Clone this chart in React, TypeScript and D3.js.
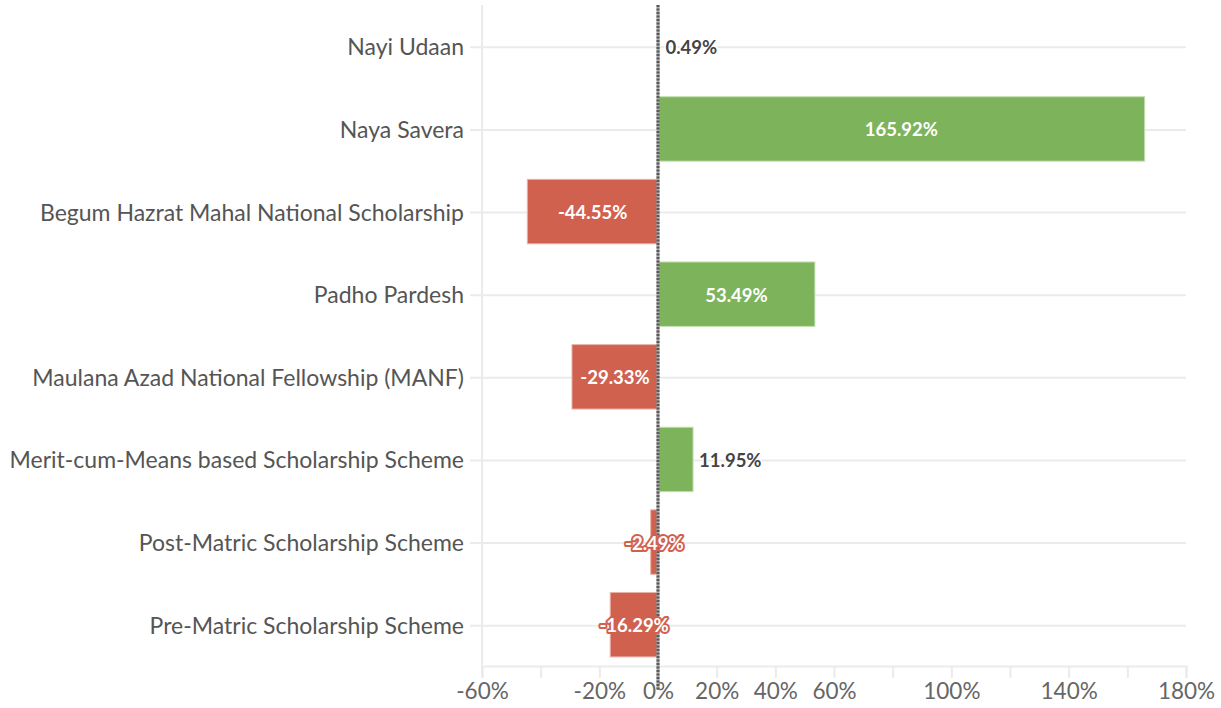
import { useRef, useEffect } from 'react';
import * as d3 from 'd3';

const schemes = [
  'Nayi Udaan',
  'Naya Savera',
  'Begum Hazrat Mahal National Scholarship',
  'Padho Pardesh',
  'Maulana Azad National Fellowship (MANF)',
  'Merit-cum-Means based Scholarship Scheme',
  'Post-Matric Scholarship Scheme',
  'Pre-Matric Scholarship Scheme',
];
const changes = [0.49, 165.92, -44.55, 53.49, -29.33, 11.95, -2.49, -16.29];
const tickValues = [-60, -40, -20, 0, 20, 40, 60, 80, 100, 120, 140, 160, 180];
const shownTicks = [-60, -20, 0, 20, 40, 60, 100, 140, 180];

const FONT = 'Lato, "Open Sans", sans-serif';

const App = () => {
  const svgRef = useRef<SVGSVGElement>(null);

  useEffect(() => {
    if (!svgRef.current) return;
    const width = 1221;
    const height = 708;
    const margin = { top: 5, right: 35, bottom: 42, left: 482 };

    const svg = d3.select(svgRef.current);
    svg.selectAll('*').remove();

    const x = d3.scaleLinear()
      .domain([-60, 180])
      .range([margin.left, width - margin.right]);

    const y = d3.scaleBand()
      .domain(schemes)
      .range([margin.top, height - margin.bottom])
      .paddingInner(0.22)
      .paddingOuter(0.11);

    const bottom = height - margin.bottom;

    // grid lines per category
    svg.append('g')
      .selectAll('line')
      .data(schemes)
      .join('line')
      .attr('x1', margin.left - 12)
      .attr('x2', width - margin.right)
      .attr('y1', d => y(d)! + y.bandwidth() / 2 + 1)
      .attr('y2', d => y(d)! + y.bandwidth() / 2 + 1)
      .attr('stroke', '#ebebeb')
      .attr('stroke-width', 2);

    // left axis line
    svg.append('line')
      .attr('x1', margin.left).attr('x2', margin.left)
      .attr('y1', margin.top).attr('y2', bottom + 12)
      .attr('stroke', '#ebebeb')
      .attr('stroke-width', 2);

    // bottom axis
    const xAxis = svg.append('g')
      .attr('transform', `translate(0,${bottom})`)
      .call(d3.axisBottom(x)
        .tickValues(tickValues)
        .tickSize(12)
        .tickFormat(d => (shownTicks.includes(+d) ? `${d}%` : '')));
    xAxis.select('.domain').attr('stroke', '#ebebeb').attr('stroke-width', 2);
    xAxis.selectAll('.tick line').attr('stroke', '#ebebeb').attr('stroke-width', 2);
    xAxis.selectAll('.tick text')
      .attr('fill', '#666')
      .attr('font-family', FONT)
      .attr('font-size', 22.5)
      .attr('dy', '0.75em')
      .attr('y', 16);

    // category labels
    svg.append('g')
      .selectAll('text')
      .data(schemes)
      .join('text')
      .attr('x', margin.left - 18)
      .attr('y', d => y(d)! + y.bandwidth() / 2 + 1)
      .attr('dy', '0.35em')
      .attr('text-anchor', 'end')
      .attr('fill', '#555')
      .attr('font-family', FONT)
      .attr('font-size', 23)
      .text(d => d);

    const rows = schemes.map((s, i) => ({ s, v: changes[i] }));
    const colour = (v: number) => (v >= 0 ? '#7db35a' : '#d0614f');

    // bars
    svg.append('g')
      .selectAll('rect')
      .data(rows)
      .join('rect')
      .attr('x', d => Math.min(x(0), x(d.v)))
      .attr('y', d => y(d.s)!)
      .attr('width', d => Math.abs(x(d.v) - x(0)))
      .attr('height', y.bandwidth())
      .attr('fill', d => colour(d.v))
      .attr('stroke', d => (d.v >= 0 ? '#c5e0b4' : '#eab4aa'))
      .attr('stroke-width', 1);

    // zero line (grey base + darker dashes)
    svg.append('line')
      .attr('x1', x(0)).attr('x2', x(0))
      .attr('y1', margin.top).attr('y2', bottom + 24)
      .attr('stroke', '#aaa')
      .attr('stroke-width', 3);
    svg.append('line')
      .attr('x1', x(0)).attr('x2', x(0))
      .attr('y1', margin.top).attr('y2', bottom + 24)
      .attr('stroke', '#5a5a5a')
      .attr('stroke-width', 3)
      .attr('stroke-dasharray', '2,1.5');

    // value labels
    svg.append('g')
      .selectAll('text')
      .data(rows)
      .join('text')
      .each(function (d) {
        const w = Math.abs(x(d.v) - x(0));
        const outside = d.v > 0 && w < 60;
        const t = d3.select(this)
          .attr('y', y(d.s)! + y.bandwidth() / 2 + 1)
          .attr('dy', '0.35em')
          .attr('font-family', FONT)
          .attr('font-size', 18.5)
          .attr('font-weight', 700)
          .attr('paint-order', 'stroke')
          .attr('stroke-linejoin', 'round')
          .text(`${d.v.toFixed(2)}%`);
        if (outside) {
          t.attr('x', x(d.v) + 6)
            .attr('text-anchor', 'start')
            .attr('fill', '#444')
            .attr('stroke', '#fff')
            .attr('stroke-width', 3);
        } else {
          t.attr('x', (x(d.v) + x(0)) / 2)
            .attr('text-anchor', 'middle')
            .attr('fill', '#fff')
            .attr('stroke', colour(d.v))
            .attr('stroke-width', 4);
        }
      });

    return () => { svg.selectAll('*').remove(); };
  }, []);

  return (
    <svg
      ref={svgRef}
      width={1221}
      height={708}
      style={{ position: 'absolute', left: 0, top: 0, background: '#fff' }}
    />
  );
};

export default App;
